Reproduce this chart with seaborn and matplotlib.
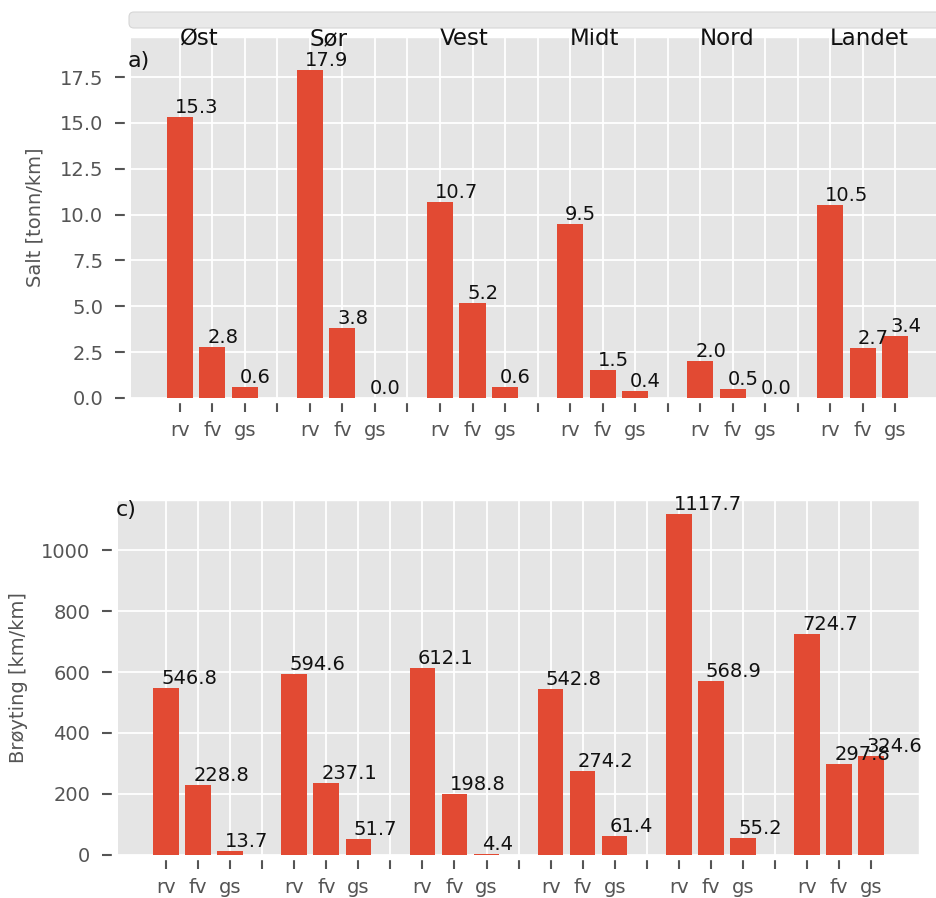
import matplotlib
matplotlib.use("Agg")
import matplotlib.pyplot as plt
import matplotlib.transforms as mtransforms
from matplotlib.patches import FancyBboxPatch
import pandas as pd
import seaborn as sns

regions = ["Øst", "Sør", "Vest", "Midt", "Nord", "Landet"]
road_types = ["rv", "fv", "gs"]

# Salt [tonn/km] per region
salt_rv = [15.3, 17.9, 10.7, 9.5, 2.0, 10.5]
salt_fv = [2.8, 3.8, 5.2, 1.5, 0.5, 2.7]
salt_gs = [0.6, 0.0, 0.6, 0.4, 0.0, 3.4]

# Brøyting [km/km] per region
broy_rv = [546.8, 594.6, 612.1, 542.8, 1117.7, 724.7]
broy_fv = [228.8, 237.1, 198.8, 274.2, 568.9, 297.8]
broy_gs = [13.7, 51.7, 4.4, 61.4, 55.2, 324.6]

BAR = "#E24A33"


def make_frame(rv, fv, gs):
    rows = []
    for g, region in enumerate(regions):
        for rt, vals in zip(road_types, (rv, fv, gs)):
            rows.append({"slot": f"{region}_{rt}", "value": vals[g]})
    return pd.DataFrame(rows)


# slot order: three bars per region, one empty slot between regions
order = []
tick_labels = []
for g, region in enumerate(regions):
    for rt in road_types:
        order.append(f"{region}_{rt}")
        tick_labels.append(rt)
    if g < len(regions) - 1:
        order.append(f"gap{g}")
        tick_labels.append("")


def draw_panel(ax, df, ylim, yticks, ylabel, letter, letter_xy, label_x):
    sns.barplot(data=df, x="slot", y="value", order=order, color=BAR,
                saturation=1, width=0.8, errorbar=None, linewidth=0, ax=ax)
    ax.set_xlim(-1.5, 23.5)
    ax.set_ylim(*ylim)
    ax.set_yticks(yticks)
    ax.set_xticks(range(len(order)))
    ax.set_xticklabels(tick_labels)
    ax.set_xlabel("")
    ax.set_ylabel(ylabel, fontsize=14, color="#555555")
    ax.yaxis.set_label_coords(label_x, 0.5)
    ax.tick_params(axis="both", labelsize=14, colors="#555555",
                   length=7, width=1.5, direction="out")
    ax.tick_params(axis="x", pad=6.5)
    ax.tick_params(axis="y", pad=9)
    ax.spines["bottom"].set_position(("outward", 3))
    ax.spines["left"].set_position(("outward", 4))
    ax.grid(True, color="white", linewidth=1.3)
    ax.set_axisbelow(True)

    for slot, val in zip(df["slot"], df["value"]):
        pos = order.index(slot)
        ax.text(pos - 0.15, val, f"{val:.1f}", ha="left", va="bottom",
                fontsize=14, color="#111111")

    ax.text(letter_xy[0], letter_xy[1], letter, transform=ax.transAxes,
            ha="left", va="top", fontsize=16, color="#111111")


plt.style.use("ggplot")
fig = plt.figure(figsize=(9.36, 8.98), dpi=100)

ax1 = fig.add_axes([0.140, 0.5568, 0.8686, 0.4020])
ax2 = fig.add_axes([0.1261, 0.0479, 0.8558, 0.3953])

draw_panel(ax1, make_frame(salt_rv, salt_fv, salt_gs), (0, 19.69),
           [0, 2.5, 5, 7.5, 10, 12.5, 15, 17.5], "Salt [tonn/km]", "a)",
           (-0.004, 0.962), -0.106)
ax1.yaxis.set_major_formatter(matplotlib.ticker.FormatStrFormatter("%.1f"))

draw_panel(ax2, make_frame(broy_rv, broy_fv, broy_gs), (0, 1164),
           [0, 200, 400, 600, 800, 1000], "Brøyting [km/km]", "c)",
           (-0.0025, 1.0), -0.112)

# region titles, left-aligned at the rv slot
trans = mtransforms.blended_transform_factory(ax1.transData, ax1.transAxes)
for g, region in enumerate(regions):
    ax1.text(order.index(f"{region}_rv"), 0.978, region, transform=trans,
             ha="left", va="baseline", fontsize=16.5, color="#111111")

# light strip across the top
strip = FancyBboxPatch((1.29, 8.70), 8.3, 0.16,
                       boxstyle="round,pad=0,rounding_size=0.05",
                       transform=fig.dpi_scale_trans, facecolor="#E9E9E9",
                       edgecolor="#D6D6D6", linewidth=0.8)
fig.patches.append(strip)

fig.savefig("out.png", dpi=100)
